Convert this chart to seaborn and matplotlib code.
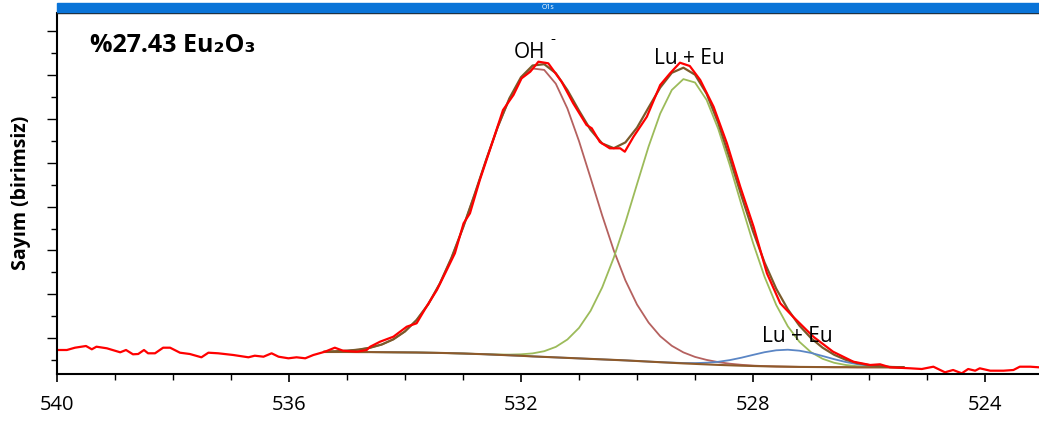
import numpy as np
import pandas as pd
import matplotlib
matplotlib.use("Agg")
import matplotlib.pyplot as plt
import seaborn as sns
from matplotlib.patches import Rectangle

# ---------------- data (binding energy, eV / counts in arbitrary units) ----------------
raw_be = [540.00, 539.83, 539.69, 539.50, 539.40, 539.32, 539.14, 538.91, 538.81, 538.69,
          538.60, 538.50, 538.43, 538.31, 538.17, 538.05, 537.88, 537.71, 537.51, 537.39,
          537.22, 536.96, 536.70, 536.59, 536.44, 536.30, 536.18, 536.01, 535.87, 535.72,
          535.58, 535.38, 535.21, 535.07, 534.83, 534.66, 534.60, 534.43, 534.20, 533.97,
          533.80, 533.63, 533.45, 533.28, 533.14, 532.99, 532.88, 532.71, 532.48, 532.31,
          532.13, 531.99, 531.84, 531.70, 531.53, 531.30, 531.10, 530.87, 530.78, 530.64,
          530.47, 530.29, 530.21, 530.06, 529.83, 529.60, 529.43, 529.26, 529.09, 528.91,
          528.68, 528.45, 528.22, 527.99, 527.76, 527.53, 527.31, 526.96, 526.62, 526.27,
          525.98, 525.81, 525.64, 525.29, 525.09, 524.89, 524.69, 524.55, 524.40, 524.29,
          524.17, 524.09, 523.91, 523.68, 523.51, 523.40, 523.22, 523.07]
raw_counts = [24.0, 24.0, 26.3, 28.0, 24.7, 27.3, 25.7, 21.7, 24.0, 19.7,
              20.0, 24.0, 20.7, 20.7, 26.3, 26.3, 21.3, 20.0, 16.7, 21.3,
              20.7, 19.0, 16.7, 18.3, 17.3, 20.7, 17.3, 15.7, 16.7, 15.7,
              19.0, 22.3, 26.3, 23.3, 22.3, 24.0, 27.3, 32.3, 37.3, 47.3,
              50.7, 67.3, 84.0, 104.0, 120.7, 150.7, 160.7, 194.0, 234.0, 264.0,
              279.0, 295.7, 302.3, 312.3, 310.7, 292.3, 270.7, 249.0, 245.7, 232.0,
              225.7, 225.7, 222.3, 237.3, 257.3, 289.0, 300.7, 311.3, 308.0, 294.0,
              267.3, 230.7, 187.3, 147.3, 100.7, 70.7, 57.3, 37.3, 22.3, 12.3,
              9.0, 9.7, 6.7, 5.7, 5.0, 7.3, 1.7, 4.0, 0.7, 5.0,
              3.3, 5.7, 3.3, 3.3, 4.0, 7.3, 7.3, 6.7]

fit_be = [535.4, 535.2, 535.0, 534.8, 534.6, 534.4, 534.2, 534.0, 533.8, 533.6,
          533.4, 533.2, 533.0, 532.8, 532.6, 532.4, 532.2, 532.0, 531.8, 531.6,
          531.4, 531.2, 531.0, 530.8, 530.6, 530.4, 530.2, 530.0, 529.8, 529.6,
          529.4, 529.2, 529.0, 528.8, 528.6, 528.4, 528.2, 528.0, 527.8, 527.6,
          527.4, 527.2, 527.0, 526.8, 526.6, 526.4, 526.2, 526.0, 525.8, 525.6,
          525.4]
background = [22.0, 22.0, 22.0, 21.9, 21.9, 21.8, 21.7, 21.6, 21.5, 21.3,
              21.1, 20.8, 20.5, 20.1, 19.7, 19.2, 18.7, 18.2, 17.6, 17.1,
              16.6, 16.1, 15.6, 15.1, 14.6, 14.1, 13.6, 13.0, 12.4, 11.8,
              11.2, 10.6, 10.1, 9.6, 9.1, 8.7, 8.3, 8.0, 7.7, 7.5,
              7.3, 7.1, 7.0, 6.9, 6.8, 6.8, 6.7, 6.7, 6.7, 6.7,
              6.7]
oh_peak = [0.3, 0.7, 1.3, 2.5, 4.4, 7.7, 13.0, 21.0, 32.5, 48.4,
           69.3, 95.2, 125.8, 159.5, 194.5, 227.8, 256.3, 277.1, 287.9, 287.0,
           273.7, 249.4, 217.3, 180.9, 143.9, 109.4, 80.0, 56.5, 39.0, 26.0,
           17.0, 11.0, 7.0, 4.5, 2.8, 1.6, 0.9, 0.4, 0.2, 0.0,
           0.0, 0.0, 0.0, 0.0, 0.0, 0.0, 0.0, 0.0, 0.0, 0.0,
           0.0]
lueu_peak = [0.0, 0.0, 0.0, 0.0, 0.0, 0.0, 0.0, 0.0, 0.0, 0.0,
             0.0, 0.0, 0.0, 0.0, 0.1, 0.3, 0.7, 1.5, 3.0, 5.7,
             10.5, 18.4, 30.5, 48.1, 72.0, 102.3, 138.0, 176.8, 215.1, 248.6,
             272.8, 284.3, 281.4, 264.5, 236.1, 200.1, 161.1, 123.2, 89.4, 61.6,
             40.4, 25.1, 14.8, 8.3, 4.4, 2.2, 1.1, 0.5, 0.2, 0.0,
             0.0]
lueu2_peak = [0.0, 0.0, 0.0, 0.0, 0.0, 0.0, 0.0, 0.0, 0.0, 0.0,
              0.0, 0.0, 0.0, 0.0, 0.0, 0.0, 0.0, 0.0, 0.0, 0.0,
              0.0, 0.0, 0.0, 0.0, 0.0, 0.0, 0.0, 0.0, 0.0, 0.0,
              0.2, 0.4, 0.8, 1.7, 3.1, 5.2, 8.0, 11.1, 14.1, 16.2,
              17.0, 16.2, 14.1, 11.1, 8.0, 5.2, 3.1, 1.7, 0.8, 0.3,
              0.0]

x_ticks = [540, 536, 532, 528, 524]
x_ticklabels = ["540", "536", "532", "528", "524"]

# ---------------- styling ----------------
sns.set_theme(style="ticks")
plt.rcParams["font.family"] = ["Open Sans", "DejaVu Sans"]
plt.rcParams["text.color"] = "black"
plt.rcParams["axes.labelcolor"] = "black"
plt.rcParams["xtick.color"] = "black"
plt.rcParams["ytick.color"] = "black"

W, H = 1039, 422
fig = plt.figure(figsize=(W / 100, H / 100), dpi=100)
ax = fig.add_axes([57 / W, 48 / H, 982 / W, 361.5 / H])

bg = np.array(background)
df_fit = pd.DataFrame({
    "be": fit_be,
    "bg": bg,
    "oh": bg + np.array(oh_peak),
    "lueu": bg + np.array(lueu_peak),
    "lueu2": bg + np.array(lueu2_peak),
})
df_fit["env"] = bg + np.array(oh_peak) + np.array(lueu_peak) + np.array(lueu2_peak)
df_raw = pd.DataFrame({"be": raw_be, "counts": raw_counts})

kw = dict(sort=False, estimator=None, ax=ax, legend=False)
sns.lineplot(data=df_fit, x="be", y="oh", color="#B5615F", lw=1.3, **kw)
sns.lineplot(data=df_fit, x="be", y="lueu", color="#9CBB5A", lw=1.3, **kw)
sns.lineplot(data=df_fit, x="be", y="lueu2", color="#5B86C5", lw=1.3, **kw)
sns.lineplot(data=df_fit, x="be", y="bg", color="#8E5A2A", lw=1.5, **kw)
sns.lineplot(data=df_fit, x="be", y="env", color="#7A5A2A", lw=1.6, **kw)
sns.lineplot(data=df_raw, x="be", y="counts", color="#FF0000", lw=1.6, **kw)

ax.set_xlim(540, 540 - 982 / 58)
ax.set_ylim(0, 361.5)
ax.set_xticks(x_ticks)
ax.set_xticklabels(x_ticklabels, fontsize=14.5)
ax.set_xticks(np.arange(539, 523, -1), minor=True)
ax.set_yticks(np.arange(36, 361, 43.8))
ax.set_yticks(np.arange(14, 361, 43.8), minor=True)
ax.set_yticklabels([])
ax.tick_params(axis="x", which="major", direction="out", length=6, width=1.2, pad=9)
ax.tick_params(axis="x", which="minor", direction="out", length=4, width=1.0)
ax.tick_params(axis="y", which="major", direction="out", length=7, width=1.0)
ax.tick_params(axis="y", which="minor", direction="out", length=4, width=1.0, left=True)
ax.set_xlabel("")
ax.set_ylabel("Sayım (birimsiz)", fontsize=14, fontweight="bold", labelpad=8)

for s in ["left", "bottom"]:
    ax.spines[s].set_color("black")
    ax.spines[s].set_linewidth(1.5)
ax.spines["top"].set_color("#222222")
ax.spines["top"].set_linewidth(1.0)
ax.spines["right"].set_visible(False)

# title / annotations
ax.text(0.034, 0.91, "%27.43 Eu₂O₃", transform=ax.transAxes, fontsize=18,
        fontweight="bold", ha="left", va="center", family=["Open Sans", "DejaVu Sans"])
ax.text(531.85, 322, "OH", fontsize=15, ha="center", va="center")
ax.text(531.45, 335, "-", fontsize=11, ha="center", va="center")
ax.text(529.09, 316, "Lu + Eu", fontsize=15, ha="center", va="center")
ax.text(527.24, 38, "Lu + Eu", fontsize=15, ha="center", va="center")

# window header bar
fig.patches.append(Rectangle((57 / W, (H - 12) / H), 982 / W, 9 / H,
                             transform=fig.transFigure, color="#0A74D8", zorder=5))
fig.text(548 / W, (H - 7.5) / H, "O1s", color="white", fontsize=5, ha="center",
         va="center", zorder=6)

fig.savefig("out.png", dpi=100, facecolor="white")
